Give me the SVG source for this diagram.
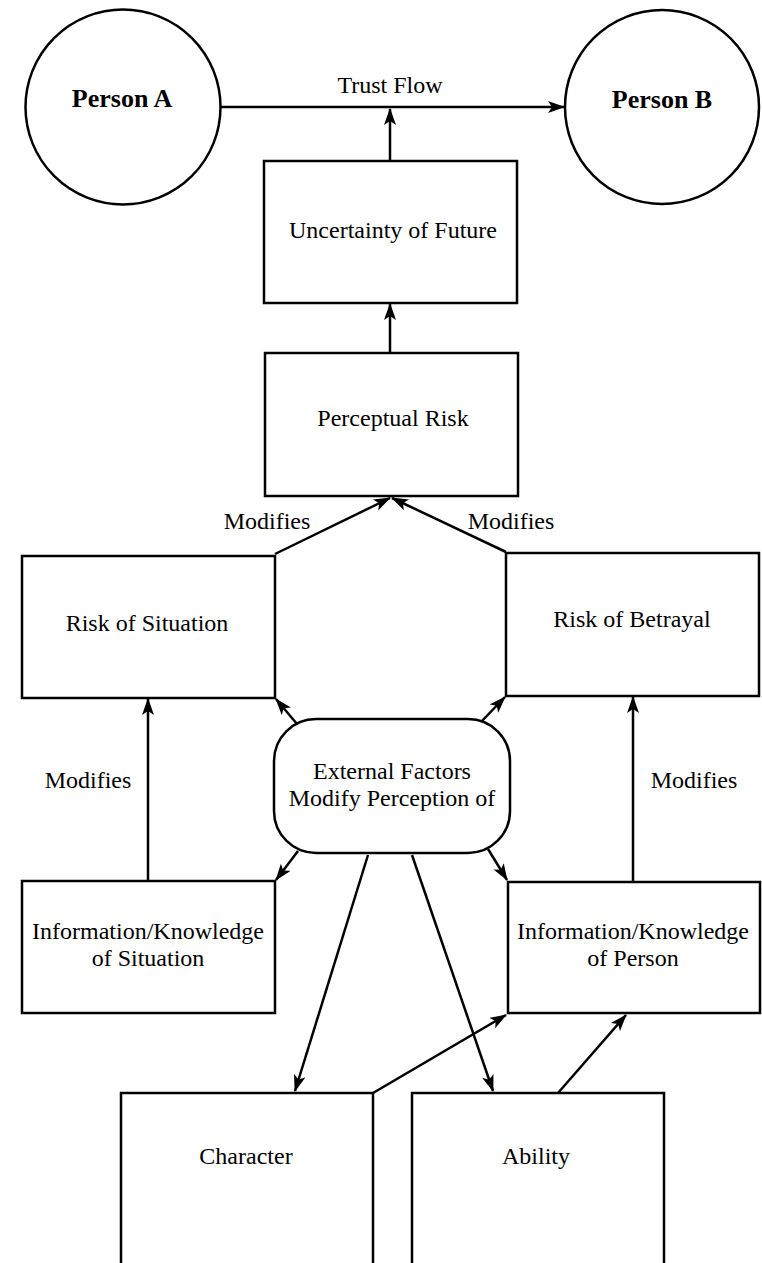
<svg xmlns="http://www.w3.org/2000/svg" width="762" height="1263" viewBox="0 0 762 1263">
<defs>
<marker id="ah" markerUnits="userSpaceOnUse" markerWidth="18" markerHeight="14" refX="16" refY="6" orient="auto">
<path d="M0,0 L17,6 L0,12 L4,6 Z" fill="#000"/>
</marker>
<style>
.n{fill:#fff;stroke:#000;stroke-width:2.5}
.t{font-family:'Liberation Serif','Times New Roman','DejaVu Serif',serif;font-size:24px;fill:#000;text-anchor:middle}
.b{font-weight:bold;font-size:26px}
.c{fill:none;stroke:#000;stroke-width:2.5;marker-end:url(#ah)}
</style>
</defs>
<rect width="762" height="1263" fill="#fff"/>
<g id="connectors">
<line class="c" x1="221" y1="107" x2="564" y2="107"/>
<line class="c" x1="390" y1="161" x2="390" y2="109"/>
<line class="c" x1="390" y1="353" x2="390" y2="304"/>
<line class="c" x1="275" y1="554" x2="390" y2="498"/>
<line class="c" x1="506" y1="552" x2="392" y2="498"/>
<line class="c" x1="297" y1="724" x2="276" y2="699"/>
<line class="c" x1="480" y1="723" x2="505" y2="697"/>
<line class="c" x1="298" y1="851" x2="276" y2="880"/>
<line class="c" x1="488" y1="849" x2="507" y2="880"/>
<line class="c" x1="148" y1="881" x2="148" y2="699"/>
<line class="c" x1="633" y1="882" x2="633" y2="697"/>
<line class="c" x1="368" y1="855" x2="295" y2="1091"/>
<line class="c" x1="412" y1="855" x2="493" y2="1091"/>
<line class="c" x1="373" y1="1093" x2="506" y2="1015"/>
<line class="c" x1="558" y1="1093" x2="626" y2="1015"/>
<text class="t" x="390" y="93">Trust Flow</text>
<text class="t" x="267" y="529">Modifies</text>
<text class="t" x="511" y="529">Modifies</text>
<text class="t" x="88" y="788">Modifies</text>
<text class="t" x="694" y="788">Modifies</text>
</g>
<g id="personA">
<circle class="n" cx="123" cy="107" r="97.5"/>
<text class="t b" x="122" y="107">Person A</text>
</g>
<g id="personB">
<circle class="n" cx="662" cy="107" r="97"/>
<text class="t b" x="662" y="108">Person B</text>
</g>
<g id="uncertainty">
<rect class="n" x="264" y="161" width="253" height="142"/>
<text class="t" x="393" y="238">Uncertainty of Future</text>
</g>
<g id="perceptual">
<rect class="n" x="265" y="353" width="253" height="143"/>
<text class="t" x="393" y="426">Perceptual Risk</text>
</g>
<g id="riskSituation">
<rect class="n" x="22" y="556" width="253" height="142"/>
<text class="t" x="147" y="631">Risk of Situation</text>
</g>
<g id="riskBetrayal">
<rect class="n" x="506" y="553" width="253" height="143"/>
<text class="t" x="632" y="627">Risk of Betrayal</text>
</g>
<g id="external">
<rect class="n" x="274" y="719" width="236" height="134" rx="42" ry="42"/>
<text class="t" x="392" y="779">External Factors</text>
<text class="t" x="392" y="806">Modify Perception of</text>
</g>
<g id="infoSituation">
<rect class="n" x="22" y="881" width="253" height="132"/>
<text class="t" x="148" y="939">Information/Knowledge</text>
<text class="t" x="148" y="966">of Situation</text>
</g>
<g id="infoPerson">
<rect class="n" x="508" y="882" width="252" height="131"/>
<text class="t" x="633" y="939">Information/Knowledge</text>
<text class="t" x="633" y="966">of Person</text>
</g>
<g id="character">
<rect class="n" x="121" y="1093" width="252" height="200"/>
<text class="t" x="246" y="1164">Character</text>
</g>
<g id="ability">
<rect class="n" x="412" y="1093" width="252" height="200"/>
<text class="t" x="536" y="1164">Ability</text>
</g>
</svg>
